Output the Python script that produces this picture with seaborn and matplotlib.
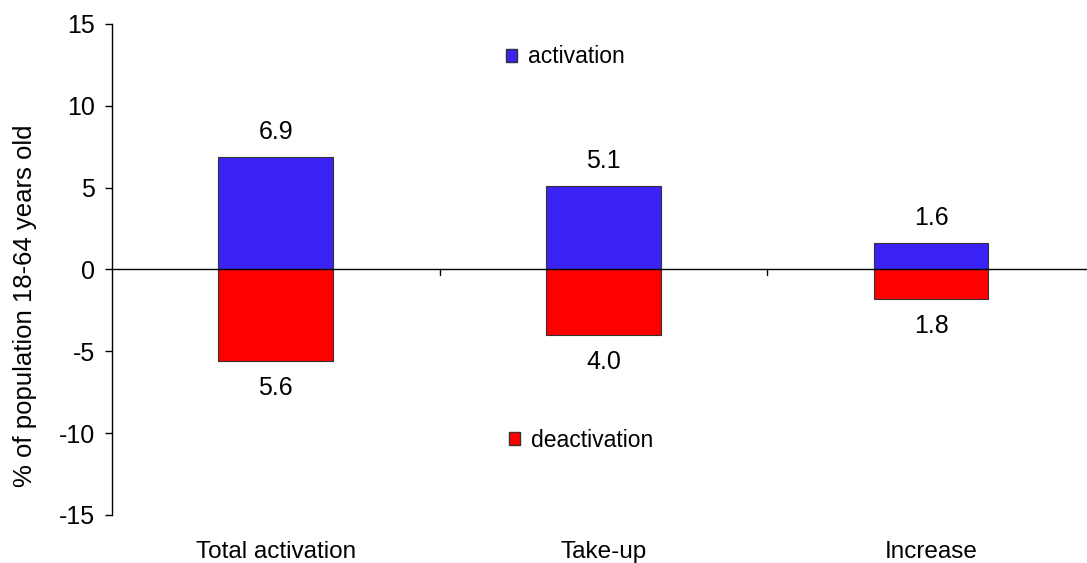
import matplotlib
matplotlib.use("Agg")
import matplotlib.pyplot as plt
import seaborn as sns
import pandas as pd
from matplotlib.patches import Patch

categories = ["Total activation", "Take-up", "Increase"]
activation = [6.9, 5.1, 1.6]
deactivation = [5.6, 4.0, 1.8]
yticks = [-15, -10, -5, 0, 5, 10, 15]

blue = "#3B22F5"
red = "#FF0000"

sns.set_theme(style="white")
plt.rcParams["font.family"] = ["Liberation Sans", "DejaVu Sans"]
plt.rcParams["text.color"] = "black"
plt.rcParams["axes.labelcolor"] = "black"
plt.rcParams["xtick.color"] = "black"
plt.rcParams["ytick.color"] = "black"

df = pd.DataFrame({"category": categories,
                   "activation": activation,
                   "deactivation": [-v for v in deactivation]})

fig = plt.figure(figsize=(10.87, 5.63), dpi=100)
ax = fig.add_axes([0.103, 0.0853, 0.897, 0.8721])

sns.barplot(data=df, x="category", y="activation", color=blue, width=0.35,
            edgecolor="#333333", linewidth=0.8, saturation=1, ax=ax)
sns.barplot(data=df, x="category", y="deactivation", color=red, width=0.35,
            edgecolor="#333333", linewidth=0.8, saturation=1, ax=ax)

ax.set_ylim(-15, 15)
ax.set_xlim(-0.5, 2.476)
ax.set_yticks(yticks)
ax.set_yticklabels([str(t) for t in yticks], fontsize=18)
ax.set_xlabel("")
ax.set_ylabel("% of population 18-64 years old", fontsize=18.5)
ax.yaxis.set_label_coords(-0.0766, 0.4256)

for s in ["top", "right", "bottom"]:
    ax.spines[s].set_visible(False)
ax.spines["left"].set_color("black")
ax.spines["left"].set_linewidth(1)
ax.tick_params(axis="y", direction="out", length=5, width=1, color="black",
               left=True, pad=7)
ax.tick_params(axis="x", length=0, labelsize=17.5, pad=18.5)

# zero line acting as the category axis, with tick marks between categories
ax.axhline(0, color="black", linewidth=1, zorder=5)
for b in [0.5, 1.5]:
    ax.plot([b, b], [0, -0.35], color="black", linewidth=1, zorder=5)

# value labels
for i, (a, d) in enumerate(zip(activation, deactivation)):
    ax.annotate(f"{a:.1f}", (i, a), xytext=(0, 25), textcoords="offset pixels",
                ha="center", va="center", fontsize=18)
    ax.annotate(f"{d:.1f}", (i, -d), xytext=(0, -27), textcoords="offset pixels",
                ha="center", va="center", fontsize=18)

# legend entries placed separately above and below the zero line
leg_kw = dict(frameon=False, fontsize=16.5, handlelength=0.5, handleheight=0.5,
              handletextpad=0.45, borderaxespad=0, borderpad=0, loc="center left")
leg1 = ax.legend(handles=[Patch(facecolor=blue, edgecolor="#333333", label="activation")],
                 bbox_to_anchor=(0.404, 0.933), **leg_kw)
ax.add_artist(leg1)
ax.legend(handles=[Patch(facecolor=red, edgecolor="#333333", label="deactivation")],
          bbox_to_anchor=(0.407, 0.152), **leg_kw)

fig.savefig("out.png", dpi=100)
